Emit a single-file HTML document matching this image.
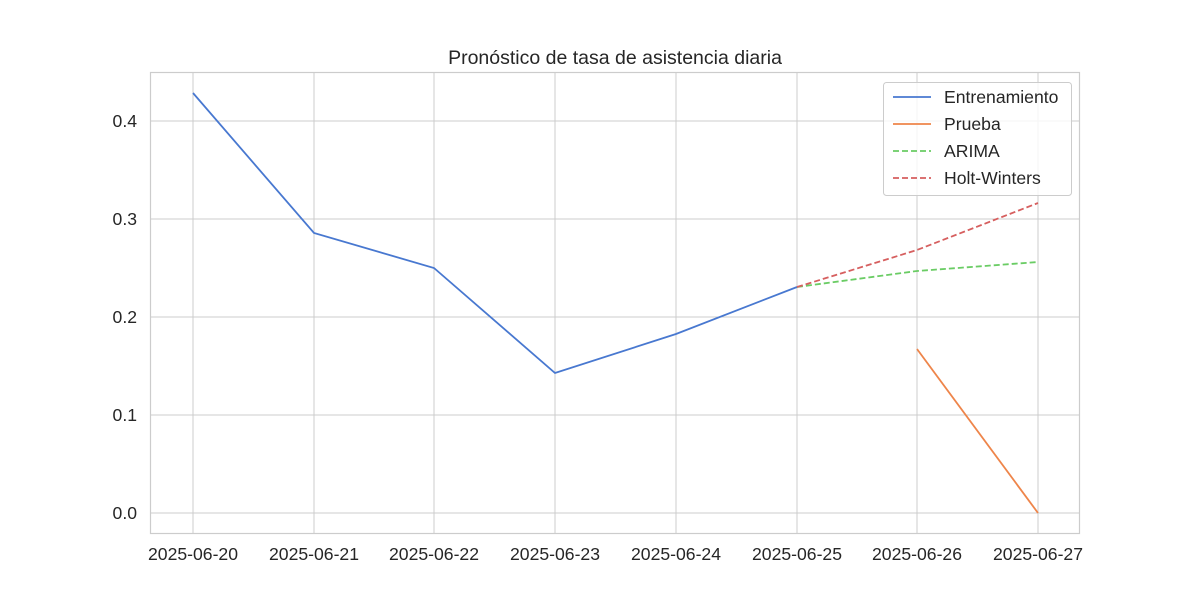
<!DOCTYPE html>
<html><head><meta charset="utf-8"><style>
html,body{margin:0;padding:0;background:#fff;}
svg text{font-family:"Liberation Sans",Arial,sans-serif;fill:#262626;}
</style></head><body>
<svg width="1200" height="600" xmlns="http://www.w3.org/2000/svg">
<rect width="1200" height="600" fill="#fff"/>
<g stroke="#cccccc" stroke-width="1">
<line x1="193" y1="72" x2="193" y2="534"/><line x1="314" y1="72" x2="314" y2="534"/>
<line x1="434" y1="72" x2="434" y2="534"/><line x1="555" y1="72" x2="555" y2="534"/>
<line x1="676" y1="72" x2="676" y2="534"/><line x1="797" y1="72" x2="797" y2="534"/>
<line x1="917" y1="72" x2="917" y2="534"/><line x1="1038" y1="72" x2="1038" y2="534"/>
<line x1="150" y1="513" x2="1080" y2="513"/><line x1="150" y1="415" x2="1080" y2="415"/>
<line x1="150" y1="317" x2="1080" y2="317"/><line x1="150" y1="219" x2="1080" y2="219"/>
<line x1="150" y1="121" x2="1080" y2="121"/>
</g>
<rect x="150.5" y="72.5" width="929" height="461" fill="none" stroke="#cccccc" stroke-width="1.2"/>
<polyline fill="none" stroke="#4878d0" stroke-width="1.8" points="193,93 314,233 434,268 555,373 676,334 797,287"/>
<polyline fill="none" stroke="#ee854a" stroke-width="1.8" points="917,349 1038,513"/>
<polyline fill="none" stroke="#6acc64" stroke-width="1.8" stroke-dasharray="6,3" points="797,287 917,271 1038,262"/>
<polyline fill="none" stroke="#d65f5f" stroke-width="1.8" stroke-dasharray="6,3" points="797,287 917,250 1038,203"/>
<g font-size="17.6" text-anchor="end">
<text x="137" y="519">0.0</text><text x="137" y="421">0.1</text><text x="137" y="323">0.2</text>
<text x="137" y="225">0.3</text><text x="137" y="127">0.4</text>
</g>
<g font-size="17.6" text-anchor="middle">
<text x="193" y="560">2025-06-20</text><text x="314" y="560">2025-06-21</text>
<text x="434" y="560">2025-06-22</text><text x="555" y="560">2025-06-23</text>
<text x="676" y="560">2025-06-24</text><text x="797" y="560">2025-06-25</text>
<text x="917" y="560">2025-06-26</text><text x="1038" y="560">2025-06-27</text>
</g>
<text x="615" y="64" font-size="19.5" text-anchor="middle">Pronóstico de tasa de asistencia diaria</text>
<rect x="883.5" y="82.5" width="188" height="113" rx="3" fill="#fff" fill-opacity="0.8" stroke="#cccccc"/>
<line x1="893" y1="97" x2="931" y2="97" stroke="#4878d0" stroke-width="1.8"/>
<line x1="893" y1="124" x2="931" y2="124" stroke="#ee854a" stroke-width="1.8"/>
<line x1="893" y1="151" x2="931" y2="151" stroke="#6acc64" stroke-width="1.8" stroke-dasharray="6,3"/>
<line x1="893" y1="178" x2="931" y2="178" stroke="#d65f5f" stroke-width="1.8" stroke-dasharray="6,3"/>
<g font-size="17.6">
<text x="944" y="103">Entrenamiento</text><text x="944" y="130">Prueba</text>
<text x="944" y="157">ARIMA</text><text x="944" y="184">Holt-Winters</text>
</g>
</svg>
</body></html>
